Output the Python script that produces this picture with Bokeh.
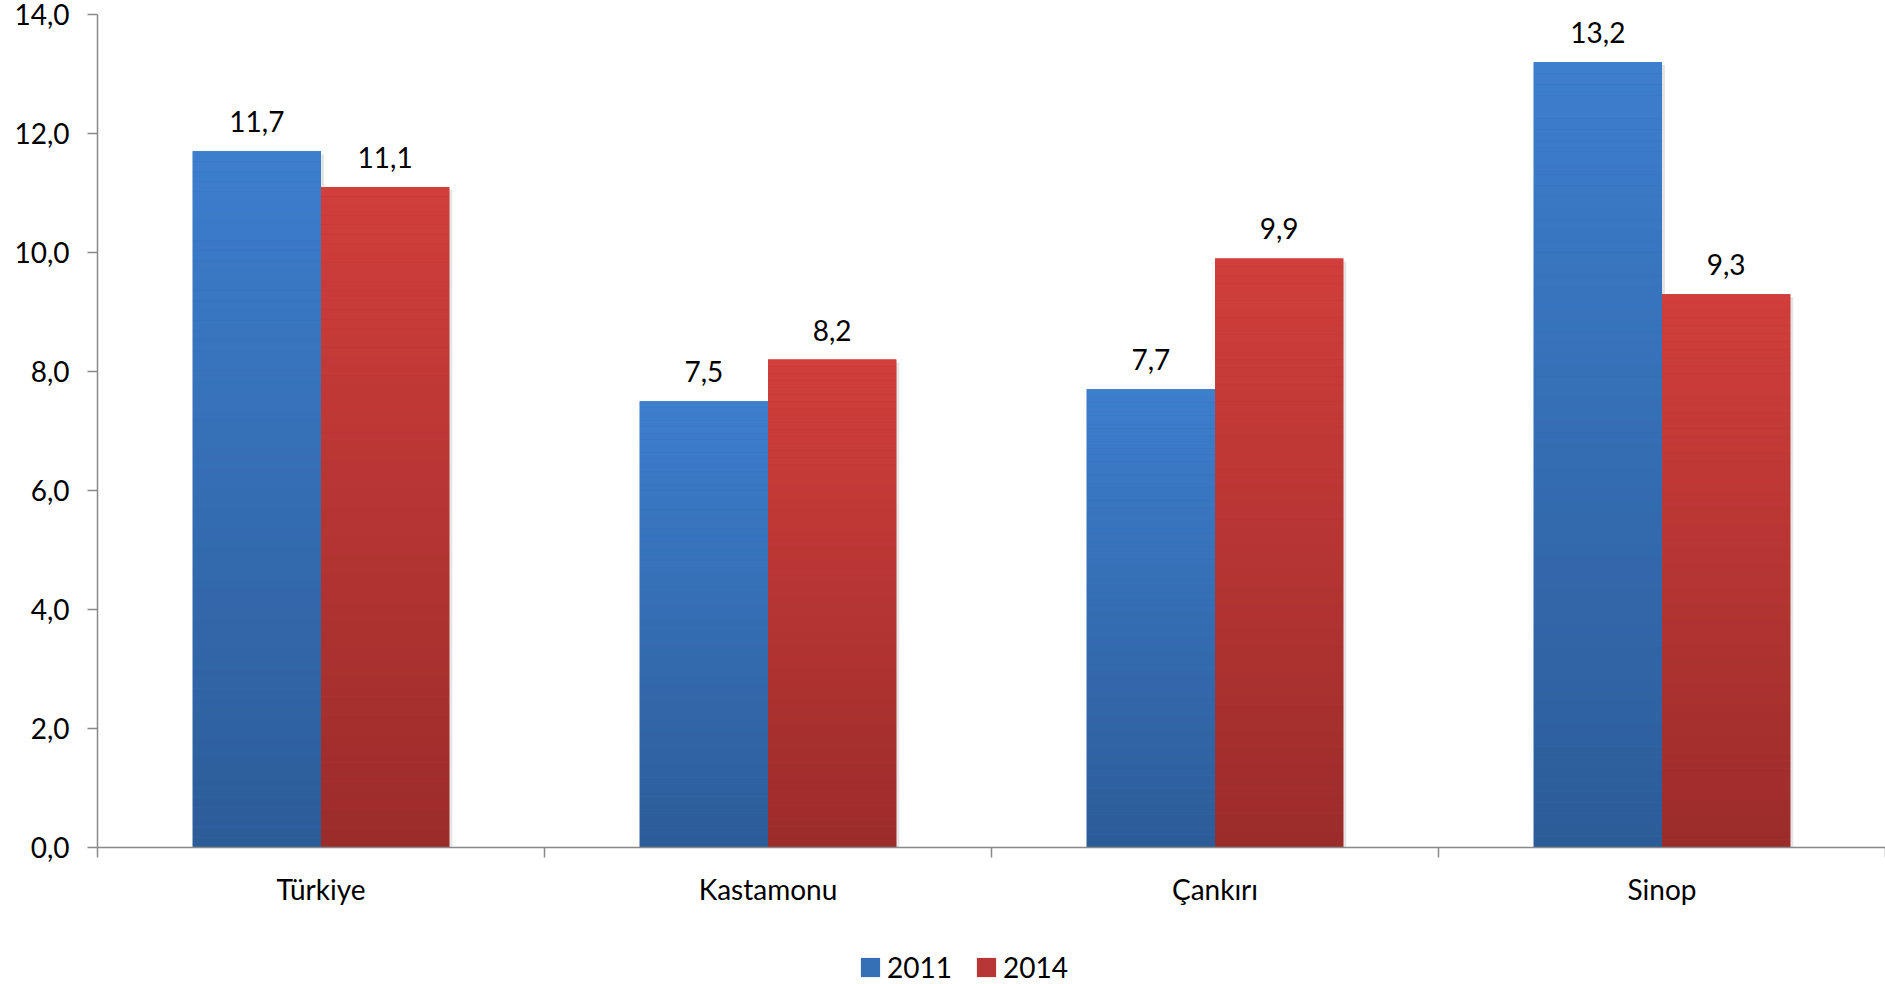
from bokeh.plotting import figure
from bokeh.layouts import column
from bokeh.models import Range1d, FixedTicker, LabelSet, ColumnDataSource, Legend, LegendItem
from bokeh.core.properties import value
from bokeh.embed import file_html
from bokeh.resources import INLINE

# ---- data ----
categories = ["Türkiye", "Kastamonu", "Çankırı", "Sinop"]
series_names = ["2011", "2014"]
values_2011 = [11.7, 7.5, 7.7, 13.2]
values_2014 = [11.1, 8.2, 9.9, 9.3]
y_ticks = [0, 2, 4, 6, 8, 10, 12, 14]
y_tick_labels = ["0,0", "2,0", "4,0", "6,0", "8,0", "10,0", "12,0", "14,0"]

# ---- style ----
FONT = "Lato"
FS = "28px"
AXIS_GRAY = "#898989"
BLUE_TOP, BLUE_BOT = (61, 126, 205), (44, 92, 152)
RED_TOP, RED_BOT = (209, 62, 59), (154, 44, 42)
BAR_W = 0.287
N_STRIPS = 70
W = 1885
H_MAIN, H_LEG = 909, 75
LEFT, TOP, BOTTOM = 97, 14, 62
FRAME_W, FRAME_H = W - LEFT, H_MAIN - TOP - BOTTOM
NAN = float("nan")


def hexc(c):
    return "#%02x%02x%02x" % tuple(int(round(x)) for x in c)


def lerp(a, b, t):
    return tuple(a[i] + (b[i] - a[i]) * t for i in range(3))


p = figure(width=W, height=H_MAIN, output_backend="svg", toolbar_location=None,
           x_range=Range1d(0, len(categories)), y_range=Range1d(0, 14),
           min_border_left=LEFT, min_border_right=0, min_border_top=TOP, min_border_bottom=BOTTOM)
p.outline_line_color = None
p.xgrid.visible = False
p.ygrid.visible = False
p.background_fill_color = "white"

# soft shadow offset a few pixels (converted to data units)
dx = 3.0 * len(categories) / FRAME_W
dy = 3.0 * 14 / FRAME_H
series = [(values_2011, BLUE_TOP, BLUE_BOT, -BAR_W / 2), (values_2014, RED_TOP, RED_BOT, BAR_W / 2)]
for vals, ctop, cbot, off in series:
    xs = [i + 0.5 + off for i in range(len(vals))]
    p.quad(left=[x - BAR_W / 2 + dx for x in xs], right=[x + BAR_W / 2 + dx for x in xs],
           bottom=[-dy] * len(vals), top=[v - dy for v in vals],
           fill_color="black", fill_alpha=0.10, line_color=None)

# gradient bars built from the values
label_x, label_y, label_t = [], [], []
for vals, ctop, cbot, off in series:
    xs = [i + 0.5 + off for i in range(len(vals))]
    p.vbar(x=xs, top=vals, bottom=0, width=BAR_W, fill_color=hexc(lerp(cbot, ctop, 0.5)), line_color=None)
    L, R, B, T, C = [], [], [], [], []
    for k in range(N_STRIPS):
        t = (k + 0.5) / N_STRIPS
        col = hexc(lerp(cbot, ctop, t))
        for x, v in zip(xs, vals):
            L.append(x - BAR_W / 2)
            R.append(x + BAR_W / 2)
            B.append(v * k / N_STRIPS)
            T.append(v * (k + 1) / N_STRIPS)
            C.append(col)
    p.quad(left=L, right=R, bottom=B, top=T, fill_color=C, line_color=None)
    for x, v in zip(xs, vals):
        label_x.append(x)
        label_y.append(v)
        label_t.append(f"{v:.1f}".replace(".", ","))

labels = LabelSet(source=ColumnDataSource(dict(x=label_x, y=label_y, t=label_t)),
                  x="x", y="y", text="t", y_offset=19, text_align="center",
                  text_baseline="alphabetic", text_font=value(FONT), text_font_size=value(FS),
                  text_color="black")
p.add_layout(labels)

# axes
xa = p.xaxis[0]
xa.ticker = FixedTicker(ticks=[i + 0.5 for i in range(len(categories))],
                        minor_ticks=list(range(len(categories) + 1)))
xa.major_label_overrides = {i + 0.5: c for i, c in enumerate(categories)}
xa.major_tick_line_color = None
xa.major_tick_out = 0
xa.major_tick_in = 0
xa.minor_tick_line_color = AXIS_GRAY
xa.minor_tick_line_width = 1.5
xa.minor_tick_out = 10
xa.minor_tick_in = 0
xa.axis_line_color = AXIS_GRAY
xa.axis_line_width = 1.5
xa.major_label_standoff = 14
xa.major_label_text_font = FONT
xa.major_label_text_font_size = FS
xa.major_label_text_color = "black"

ya = p.yaxis[0]
ya.ticker = FixedTicker(ticks=y_ticks, minor_ticks=[])
ya.major_label_overrides = {t: s for t, s in zip(y_ticks, y_tick_labels)}
ya.major_tick_line_color = AXIS_GRAY
ya.major_tick_line_width = 1.5
ya.major_tick_out = 10
ya.major_tick_in = 0
ya.minor_tick_line_color = None
ya.axis_line_color = AXIS_GRAY
ya.axis_line_width = 1.5
ya.major_label_standoff = 18
ya.major_label_text_font = FONT
ya.major_label_text_font_size = FS
ya.major_label_text_color = "black"

# legend strip (separate small figure so nothing is clipped; its frame aligns with the main frame)
lf = figure(width=W, height=H_LEG, output_backend="svg", toolbar_location=None,
            x_range=Range1d(0, 1), y_range=Range1d(0, 1),
            min_border_left=LEFT, min_border_right=0, min_border_top=0, min_border_bottom=0)
lf.axis.visible = False
lf.grid.visible = False
lf.outline_line_color = None
lr1 = lf.quad(left=[NAN], right=[NAN], top=[NAN], bottom=[NAN],
              fill_color=hexc(lerp(BLUE_BOT, BLUE_TOP, 0.55)), line_color=None)
lr2 = lf.quad(left=[NAN], right=[NAN], top=[NAN], bottom=[NAN],
              fill_color=hexc(lerp(RED_BOT, RED_TOP, 0.55)), line_color=None)
legend = Legend(items=[LegendItem(label=series_names[0], renderers=[lr1], index=0),
                       LegendItem(label=series_names[1], renderers=[lr2], index=0)],
                orientation="horizontal", location=(858 - LEFT, 0), padding=0, margin=0,
                spacing=22, glyph_width=24, glyph_height=24, label_standoff=5,
                label_height=24, label_text_font=FONT, label_text_font_size=FS,
                label_text_color="black", border_line_color=None, background_fill_alpha=0)
lf.add_layout(legend)

open("out.html", "w").write(file_html(column(p, lf, spacing=0), INLINE))
